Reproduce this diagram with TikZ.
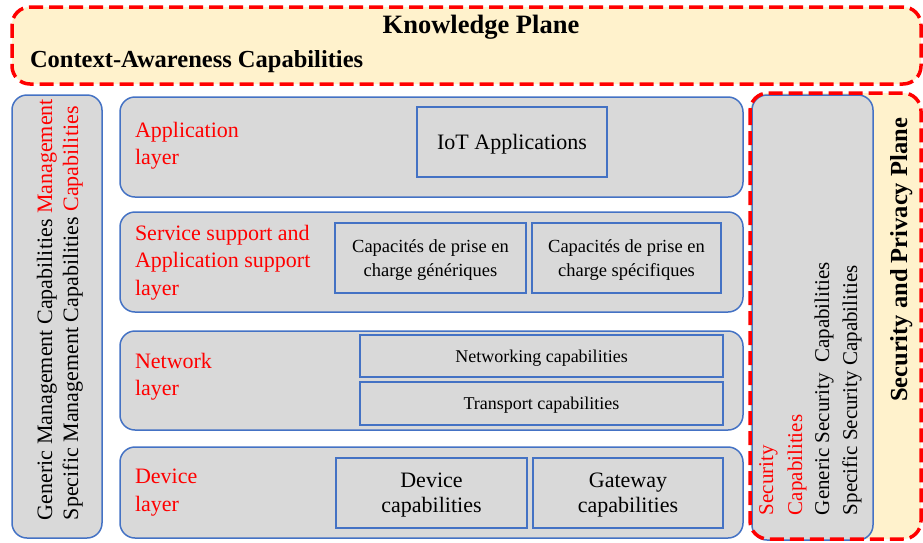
\documentclass[tikz,border=0pt]{standalone}
\usepackage{fontspec}
\setmainfont{Liberation Serif}
\definecolor{bordblue}{HTML}{4472C4}
\definecolor{boxgray}{HTML}{D9D9D9}
\definecolor{planeyel}{HTML}{FFF2CC}
\begin{document}
\begin{tikzpicture}[x=1pt,y=-1pt,
  every node/.style={inner sep=0pt,outer sep=0pt},
  planeline/.style={draw=red, line width=3.5pt, dash pattern=on 14pt off 6pt, rounded corners=18pt},
  layerbox/.style={draw=bordblue, fill=boxgray, line width=1.5pt, rounded corners=15pt, anchor=north west},
  capbox/.style={draw=bordblue, line width=1.8pt, anchor=north west, align=center, text depth=0pt},
  lab/.style={text=red, anchor=north west, align=left, font=\fontsize{22}{27.5}\selectfont},
  midtxt/.style={font=\fontsize{18.5}{24}\selectfont},
  bigtxt/.style={font=\fontsize{22}{25}\selectfont},
  rottxt/.style={rotate=90, anchor=base west, font=\fontsize{22}{26}\selectfont},
  rottxtsm/.style={rotate=90, anchor=base west, font=\fontsize{21}{25}\selectfont},
  titletxt/.style={font=\bfseries\fontsize{26.5}{30}\selectfont}
]
\useasboundingbox (0,0) rectangle (923,542);
\clip (0,0) rectangle (923,542);

% Knowledge plane
\node[planeline, fill=planeyel, anchor=north west, minimum width=909pt, minimum height=77pt] (kp) at (12,7) {};
\node[titletxt, anchor=base] (kpt) at (481,33) {Knowledge Plane};
\node[font=\bfseries\fontsize{24.5}{28}\selectfont, anchor=base west] (cac) at (30,67) {Context-Awareness Capabilities};

% Security and privacy plane
\node[fill=planeyel, rounded corners=18pt, anchor=north west, minimum width=171pt, minimum height=446pt] (sp) at (750,93) {};
\node[layerbox, minimum width=121pt, minimum height=445pt] (sc) at (752,95) {};
\draw[planeline] (sp.north west) rectangle (sp.south east);
\node[rotate=90, anchor=base, font=\bfseries\fontsize{24.5}{28}\selectfont] (spt) at (907,260) {Security and Privacy Plane};
\node[rottxtsm, text=red] (sc1) at (773,515) {Security};
\node[rottxtsm, text=red] (sc2) at (802,515) {Capabilities};
\node[rottxtsm] (sc3) at (829,515) {Generic Security~ Capabilities};
\node[rottxtsm] (sc4) at (857,515) {Specific Security Capabilities};

% Management box
\node[layerbox, minimum width=90pt, minimum height=443pt] (mg) at (12,95) {};
\node[rottxt] (mg1) at (52,520) {Generic Management Capabilities \textcolor{red}{Management}};
\node[rottxt] (mg2) at (78,520) {Specific Management Capabilities \textcolor{red}{Capabilities}};

% Application layer
\node[layerbox, minimum width=623pt, minimum height=100pt] (app) at (120,97) {};
\node[lab] (appl) at (135,122) {Application\\layer};
\node[capbox, minimum width=190pt, minimum height=70pt, font=\fontsize{22}{26}\selectfont] (iot) at (417,107) {IoT Applications};

% Service support layer
\node[layerbox, minimum width=623pt, minimum height=100pt] (svc) at (120,212) {};
\node[lab] (svcl) at (135,225) {Service support and\\Application support\\layer};
\node[capbox, midtxt, minimum width=191pt, minimum height=70pt] (cap1) at (335,223) {Capacités de prise en\\charge génériques};
\node[capbox, midtxt, minimum width=189pt, minimum height=70pt] (cap2) at (532,223) {Capacités de prise en\\charge spécifiques};

% Network layer
\node[layerbox, minimum width=623pt, minimum height=99pt] (net) at (120,331) {};
\node[lab] (netl) at (135,353) {Network\\layer};
\node[capbox, font=\fontsize{18}{22}\selectfont, minimum width=363pt, minimum height=42pt] (netw) at (360,335) {Networking capabilities};
\node[capbox, font=\fontsize{18}{22}\selectfont, minimum width=363pt, minimum height=43pt] (trans) at (360,382) {Transport capabilities};

% Device layer
\node[layerbox, minimum width=623pt, minimum height=91pt] (dev) at (120,447) {};
\node[lab] (devl) at (135,469) {Device\\layer};
\node[capbox, bigtxt, minimum width=191pt, minimum height=70pt] (devc) at (336,458) {Device\\capabilities};
\node[capbox, bigtxt, minimum width=190pt, minimum height=70pt] (gw) at (533,458) {Gateway\\capabilities};
\end{tikzpicture}
\end{document}
